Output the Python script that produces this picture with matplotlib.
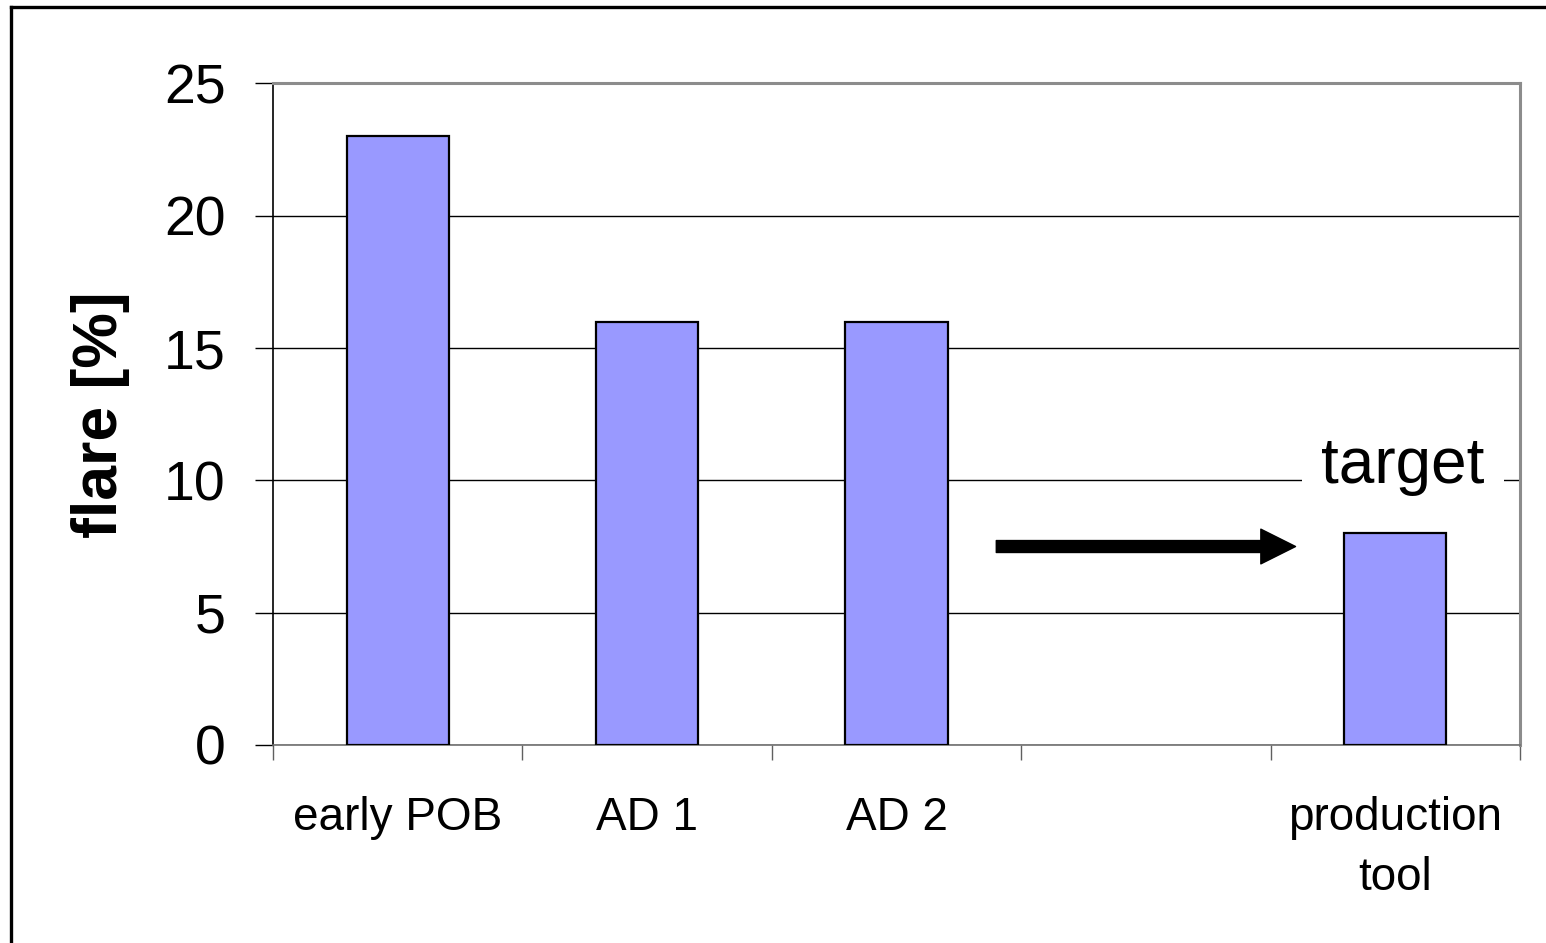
import matplotlib
matplotlib.use("Agg")
import matplotlib.pyplot as plt
from matplotlib.lines import Line2D
from matplotlib.patches import FancyArrowPatch
import numpy as np

plt.rcParams["font.family"] = ["Liberation Sans", "DejaVu Sans"]

# flare per process stage; the fourth slot is left empty on purpose
categories = ["early POB", "AD 1", "AD 2", "", "production\ntool"]
flare = [23, 16, 16, np.nan, 8]
yticks = [0, 5, 10, 15, 20, 25]

# arrow pointing towards the target bar (data coords)
ARROW_START = (2.4, 7.5)
ARROW_END = (3.6, 7.5)
TARGET_POS = (4.03, 9.9)

fig = plt.figure(figsize=(15.46, 9.43), dpi=100)
ax = fig.add_axes([0.1766, 0.2100, 0.8066, 0.7015])

x = np.arange(len(categories))
ax.bar(x, flare, width=0.41, color="#9999FF", edgecolor="black", linewidth=1.6, zorder=3)

ax.set_xlim(-0.5, len(categories) - 0.5)
ax.set_ylim(0, 25)
ax.set_yticks(yticks)
ax.yaxis.grid(True, color="black", linewidth=1.0, zorder=0)
ax.set_axisbelow(True)

# category labels in the middle, tick marks on the boundaries
ax.set_xticks(x)
ax.set_xticklabels(categories, fontsize=33, linespacing=1.45)
ax.set_xticks(np.arange(len(categories) + 1) - 0.5, minor=True)
ax.tick_params(axis="x", which="major", length=0, pad=37)
ax.tick_params(axis="x", which="minor", length=11, width=1.0, color="#606060")
ax.tick_params(axis="y", length=13, width=1.0, color="black", labelsize=40, pad=21)

for side in ["top", "right"]:
    ax.spines[side].set_color("#8c8c8c")
    ax.spines[side].set_linewidth(2.2)
ax.spines["bottom"].set_color("#707070")
ax.spines["bottom"].set_linewidth(1.2)
ax.spines["left"].set_color("black")
ax.spines["left"].set_linewidth(1.2)

ax.set_ylabel("flare [%]", fontsize=45, fontweight="bold", va="center")
ax.yaxis.set_label_coords(-0.138, 0.5)

arrow = FancyArrowPatch(ARROW_START, ARROW_END, arrowstyle="simple,head_length=25,head_width=25,tail_width=8.6",
                        mutation_scale=1, color="black", shrinkA=0, shrinkB=0, zorder=4)
ax.add_patch(arrow)

ax.text(TARGET_POS[0], TARGET_POS[1], "target", fontsize=46, ha="center", va="baseline", zorder=4,
        bbox=dict(facecolor="white", edgecolor="none", pad=14))

# outer frame of the chart object
fig.add_artist(Line2D([0.0074, 0.0074], [-0.01, 0.9931], color="black", linewidth=2.4))
fig.add_artist(Line2D([0.0074, 1.01], [0.9931, 0.9931], color="black", linewidth=2.4))

fig.savefig("out.png", dpi=100)
